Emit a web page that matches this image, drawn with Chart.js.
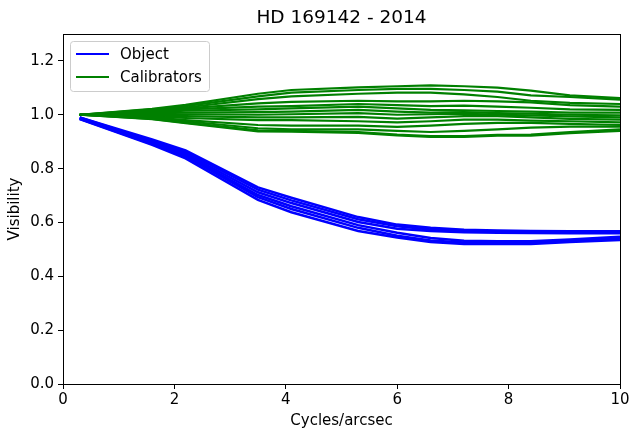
<!DOCTYPE html>
<html>
<head>
<meta charset="utf-8">
<script src="https://cdn.jsdelivr.net/npm/chart.js@4"></script>
<style>
  html, body { margin: 0; padding: 0; background: #fff; }
  #wrap { width: 632px; height: 433px; }
</style>
</head>
<body>
<div id="wrap"><canvas id="chart" width="632" height="433"></canvas></div>
<script>
// spatial frequency samples (cycles/arcsec)
const freqs = [0.3, 1.6, 2.2, 3.5, 4.1, 5.3, 6.0, 6.6, 7.2, 7.8, 8.4, 9.1, 10.0];

// object visibilities
const obj1 = [0.990, 0.908, 0.868, 0.730, 0.692, 0.620, 0.592, 0.580, 0.573, 0.570, 0.568, 0.567, 0.567];
const obj2 = [0.990, 0.903, 0.862, 0.722, 0.682, 0.612, 0.586, 0.574, 0.568, 0.566, 0.564, 0.563, 0.563];
const obj3 = [0.988, 0.900, 0.856, 0.712, 0.672, 0.602, 0.577, 0.568, 0.564, 0.562, 0.561, 0.560, 0.560];
const obj4 = [0.986, 0.895, 0.850, 0.702, 0.660, 0.590, 0.562, 0.542, 0.532, 0.530, 0.530, 0.537, 0.547];
const obj5 = [0.985, 0.891, 0.845, 0.694, 0.650, 0.580, 0.551, 0.533, 0.526, 0.524, 0.524, 0.531, 0.541];
const obj6 = [0.984, 0.888, 0.838, 0.684, 0.638, 0.568, 0.544, 0.527, 0.520, 0.520, 0.520, 0.527, 0.535];

// calibrator visibilities
const cal1  = [1.000, 1.022, 1.037, 1.078, 1.092, 1.102, 1.106, 1.109, 1.106, 1.101, 1.090, 1.072, 1.062];
const cal2  = [1.000, 1.020, 1.032, 1.068, 1.082, 1.092, 1.096, 1.096, 1.092, 1.086, 1.072, 1.066, 1.056];
const cal3  = [1.000, 1.017, 1.027, 1.058, 1.068, 1.078, 1.082, 1.082, 1.076, 1.066, 1.052, 1.044, 1.040];
const cal4  = [1.000, 1.014, 1.024, 1.042, 1.048, 1.052, 1.050, 1.050, 1.052, 1.050, 1.046, 1.036, 1.030];
const cal5  = [1.000, 1.012, 1.020, 1.030, 1.032, 1.040, 1.036, 1.032, 1.034, 1.030, 1.026, 1.020, 1.018];
const cal6  = [1.000, 1.009, 1.015, 1.020, 1.024, 1.030, 1.024, 1.018, 1.016, 1.014, 1.012, 1.008, 1.008];
const cal7  = [1.000, 1.005, 1.008, 1.010, 1.012, 1.018, 1.012, 1.008, 1.010, 1.006, 1.004, 1.000, 0.998];
const cal8  = [1.000, 1.001, 1.002, 1.000, 1.002, 1.006, 1.000, 1.002, 1.004, 1.000, 0.998, 0.994, 0.990];
const cal9  = [1.000, 0.997, 0.995, 0.990, 0.990, 0.992, 0.986, 0.990, 0.995, 0.995, 0.990, 0.985, 0.982];
const cal10 = [1.000, 0.993, 0.988, 0.980, 0.980, 0.976, 0.972, 0.976, 0.982, 0.982, 0.978, 0.976, 0.972];
const cal11 = [1.000, 0.990, 0.980, 0.962, 0.960, 0.960, 0.955, 0.960, 0.966, 0.970, 0.970, 0.966, 0.962];
const cal12 = [1.000, 0.987, 0.976, 0.950, 0.946, 0.946, 0.940, 0.936, 0.940, 0.946, 0.952, 0.956, 0.956];
const cal13 = [1.000, 0.985, 0.971, 0.942, 0.940, 0.936, 0.926, 0.921, 0.921, 0.925, 0.926, 0.936, 0.946];
const cal14 = [1.000, 0.984, 0.969, 0.938, 0.937, 0.933, 0.923, 0.918, 0.918, 0.922, 0.922, 0.932, 0.940];

const objectSeries = [obj1, obj2, obj3, obj4, obj5, obj6];
const calibSeries = [cal1, cal2, cal3, cal4, cal5, cal6, cal7, cal8, cal9, cal10, cal11, cal12, cal13, cal14];

const xTicks = [0, 2, 4, 6, 8, 10];
const yTicks = [0.0, 0.2, 0.4, 0.6, 0.8, 1.0, 1.2];
const legendItems = [
  { label: "Object", color: "#0000ff" },
  { label: "Calibrators", color: "#008000" }
];
const titleText = "HD 169142 - 2014";

const FONT = "'DejaVu Sans', sans-serif";

function toLine(vals, color, width) {
  return {
    data: vals.map((v, i) => ({ x: freqs[i], y: v })),
    borderColor: color,
    borderWidth: width,
    pointRadius: 0,
    fill: false,
    tension: 0
  };
}

const datasets = [
  ...calibSeries.map(s => toLine(s, "#008000", 2.2)),
  ...objectSeries.map(s => toLine(s, "#0000ff", 2.5))
];

const framePlugin = {
  id: "frame",
  afterDraw(chart) {
    const { ctx, chartArea: a } = chart;
    ctx.save();
    // axes box
    ctx.strokeStyle = "#000";
    ctx.lineWidth = 1;
    ctx.strokeRect(a.left + 0.5, a.top + 0.5, a.right - a.left, a.bottom - a.top);
    // title
    ctx.fillStyle = "#000";
    ctx.font = "18.5px " + FONT;
    ctx.textAlign = "center";
    ctx.textBaseline = "middle";
    ctx.fillText(titleText, (a.left + a.right) / 2, 18);
    // legend
    const bx = a.left + 7, by = a.top + 7, bw = 139, bh = 50;
    ctx.beginPath();
    ctx.roundRect(bx + 0.5, by + 0.5, bw, bh, 3);
    ctx.fillStyle = "rgba(255,255,255,0.8)";
    ctx.fill();
    ctx.strokeStyle = "#cccccc";
    ctx.stroke();
    ctx.font = "15px " + FONT;
    ctx.textAlign = "left";
    legendItems.forEach((it, i) => {
      const yy = by + 13 + i * 23;
      ctx.beginPath();
      ctx.moveTo(bx + 6, yy);
      ctx.lineTo(bx + 39, yy);
      ctx.strokeStyle = it.color;
      ctx.lineWidth = 2;
      ctx.stroke();
      ctx.fillStyle = "#000";
      ctx.fillText(it.label, bx + 50, yy + 1);
    });
    ctx.restore();
  }
};

new Chart(document.getElementById("chart"), {
  type: "line",
  data: { datasets },
  options: {
    responsive: false,
    animation: false,
    layout: { padding: { left: 0, top: 34, right: 12, bottom: 0 } },
    plugins: { legend: { display: false }, tooltip: { enabled: false }, title: { display: false } },
    scales: {
      x: {
        type: "linear",
        min: 0,
        max: 10,
        afterFit(s) { s.height = 49; },
        afterBuildTicks(s) { s.ticks = xTicks.map(v => ({ value: v })); },
        grid: { drawOnChartArea: false, drawTicks: true, tickLength: 5, color: "#000", tickColor: "#000" },
        border: { display: true, color: "#000" },
        ticks: { color: "#000", font: { family: FONT, size: 15 }, padding: 2, maxRotation: 0,
                 callback: v => String(v) },
        title: { display: true, text: "Cycles/arcsec", color: "#000", font: { family: FONT, size: 15 }, padding: { top: 2, bottom: 3 } }
      },
      y: {
        type: "linear",
        min: 0,
        max: 1.3,
        afterFit(s) { s.width = 63; },
        afterBuildTicks(s) { s.ticks = yTicks.map(v => ({ value: v })); },
        grid: { drawOnChartArea: false, drawTicks: true, tickLength: 5, color: "#000", tickColor: "#000" },
        border: { display: true, color: "#000" },
        ticks: { color: "#000", font: { family: FONT, size: 15 }, padding: 4,
                 callback: v => Number(v).toFixed(1) },
        title: { display: true, text: "Visibility", color: "#000", font: { family: FONT, size: 15 }, padding: { top: 6, bottom: 0 } }
      }
    }
  },
  plugins: [framePlugin]
});
</script>
</body>
</html>
